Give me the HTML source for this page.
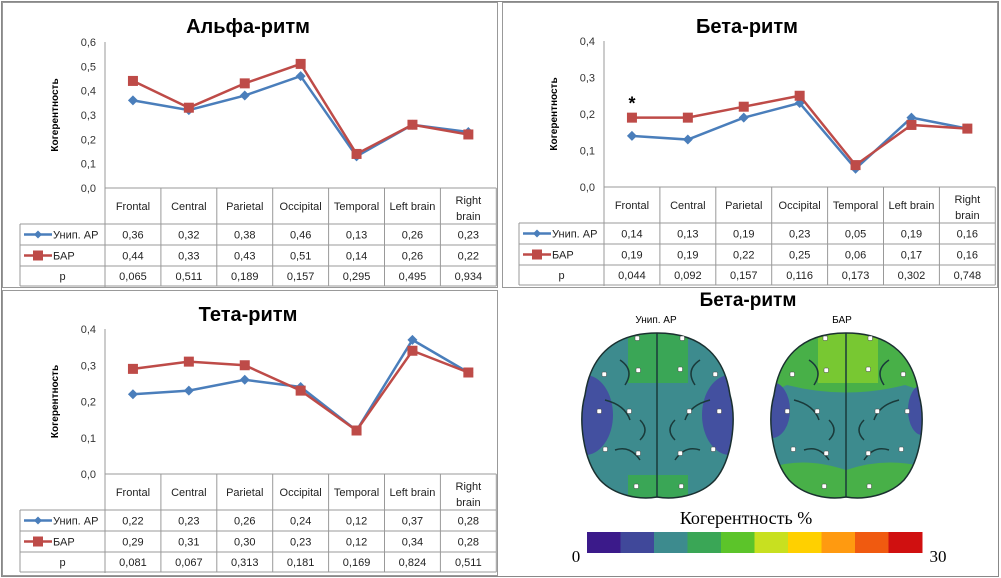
<!DOCTYPE html>
<html><head><meta charset="utf-8">
<style>
html,body{margin:0;padding:0;background:#fff;}
svg{display:block;font-family:"Liberation Sans","DejaVu Sans",sans-serif;}
</style></head>
<body>
<svg id="root" width="1001" height="578" viewBox="0 0 1001 578" xmlns="http://www.w3.org/2000/svg">
<rect x="0" y="0" width="1001" height="578" fill="#fff"/>
<rect x="1.5" y="1.5" width="997" height="575" fill="none" stroke="#888"/>
<rect x="2.5" y="2.5" width="495" height="285" fill="none" stroke="#999"/>
<rect x="502.5" y="2.5" width="495" height="285" fill="none" stroke="#999"/>
<rect x="2.5" y="290.5" width="495" height="285" fill="none" stroke="#999"/>
<g id="charts"></g>
<g id="brainPanel">
  <text x="748" y="306" text-anchor="middle" font-size="19" font-weight="bold">Бета-ритм</text>
  <text x="656" y="323" text-anchor="middle" font-size="10">Унип. АР</text>
  <text x="842" y="323" text-anchor="middle" font-size="10">БАР</text>
  <defs>
    <clipPath id="bl"><path d="M657,333 C610,333 590,360 585,395 C578,420 583,460 600,480 C615,496 640,500 657,497 C674,500 700,496 715,480 C732,460 737,420 730,395 C725,360 705,333 657,333Z"/></clipPath>
    <clipPath id="br"><path d="M846,333 C799,333 779,360 774,395 C767,420 772,460 789,480 C804,496 829,500 846,497 C863,500 889,496 904,480 C921,460 926,420 919,395 C914,360 894,333 846,333Z"/></clipPath>
  </defs>
  <g clip-path="url(#bl)">
    <rect x="575" y="330" width="170" height="175" fill="#3d8b8e"/>
    <rect x="628" y="333" width="60" height="50" fill="#3aa656"/>
    <ellipse cx="585" cy="415" rx="28" ry="40" fill="#4350a0"/>
    <ellipse cx="730" cy="415" rx="28" ry="40" fill="#4350a0"/>
    <rect x="628" y="475" width="60" height="30" fill="#3aa656"/>
    <path d="M657,333 L657,497 M620,360 q15,10 5,25 M700,360 q-15,10 -5,25 M605,400 q20,5 25,20 M710,400 q-20,5 -25,20 M615,450 q15,-5 25,10 M700,450 q-15,-5 -25,10 M640,420 q10,10 0,20 M675,420 q-10,10 0,20" stroke="#1a3a3a" stroke-width="1.5" fill="none"/>
  </g>
  <path d="M657,333 C610,333 590,360 585,395 C578,420 583,460 600,480 C615,496 640,500 657,497 C674,500 700,496 715,480 C732,460 737,420 730,395 C725,360 705,333 657,333Z" fill="none" stroke="#1a3030" stroke-width="1.5"/>
  <g clip-path="url(#br)">
    <rect x="765" y="330" width="170" height="175" fill="#3d8b8e"/>
    <path d="M765,330 H935 V395 L905,385 Q846,400 787,385 L765,395Z" fill="#48b048"/>
    <rect x="818" y="333" width="60" height="50" fill="#78c832"/>
    <ellipse cx="772" cy="410" rx="18" ry="28" fill="#4350a0"/>
    <ellipse cx="922" cy="410" rx="14" ry="25" fill="#4350a0"/>
    <path d="M765,505 V470 Q800,455 846,470 Q890,455 935,470 V505Z" fill="#48b048"/>
    <path d="M846,333 L846,497 M809,360 q15,10 5,25 M889,360 q-15,10 -5,25 M794,400 q20,5 25,20 M899,400 q-20,5 -25,20 M804,450 q15,-5 25,10 M889,450 q-15,-5 -25,10 M829,420 q10,10 0,20 M864,420 q-10,10 0,20" stroke="#1a3a3a" stroke-width="1.5" fill="none"/>
  </g>
  <path d="M846,333 C799,333 779,360 774,395 C767,420 772,460 789,480 C804,496 829,500 846,497 C863,500 889,496 904,480 C921,460 926,420 919,395 C914,360 894,333 846,333Z" fill="none" stroke="#1a3030" stroke-width="1.5"/>
  <g id="dots" fill="#fff" stroke="#444" stroke-width="0.5"></g>
  <text x="746" y="524" text-anchor="middle" font-size="18" font-family="Liberation Serif, serif">Когерентность %</text>
  <g id="cbar"></g>
  <text x="576" y="562" text-anchor="middle" font-size="17" font-family="Liberation Serif, serif">0</text>
  <text x="938" y="562" text-anchor="middle" font-size="17" font-family="Liberation Serif, serif">30</text>
</g>
</svg>
<script>
const categories = ["Frontal","Central","Parietal","Occipital","Temporal","Left brain","Right brain"];
const alphaUnip = [0.36,0.32,0.38,0.46,0.13,0.26,0.23];
const alphaBar  = [0.44,0.33,0.43,0.51,0.14,0.26,0.22];
const alphaP    = ["0,065","0,511","0,189","0,157","0,295","0,495","0,934"];
const betaUnip  = [0.14,0.13,0.19,0.23,0.05,0.19,0.16];
const betaBar   = [0.19,0.19,0.22,0.25,0.06,0.17,0.16];
const betaP     = ["0,044","0,092","0,157","0,116","0,173","0,302","0,748"];
const thetaUnip = [0.22,0.23,0.26,0.24,0.12,0.37,0.28];
const thetaBar  = [0.29,0.31,0.30,0.23,0.12,0.34,0.28];
const thetaP    = ["0,081","0,067","0,313","0,181","0,169","0,824","0,511"];
const alphaTicks = [0,0.1,0.2,0.3,0.4,0.5,0.6];
const betaTicks = [0,0.1,0.2,0.3,0.4];
const thetaTicks = [0,0.1,0.2,0.3,0.4];
const cbarColors = ["#3b1a8a","#40489a","#3d8b8e","#3aa656","#5cc42a","#c8e020","#ffd000","#ff9a10","#f05a10","#d01010"];

const NS="http://www.w3.org/2000/svg";
function mk(tag,attrs,parent,txt){const e=document.createElementNS(NS,tag);for(const k in attrs)e.setAttribute(k,attrs[k]);if(txt!==undefined)e.textContent=txt;parent.appendChild(e);return e;}
const fmt=v=>v.toFixed(2).replace('.',',');
const BLUE="#4a7ebb", RED="#be4b48";

function chart(id,title,ox,oy,yTop,yBot,max,ticks,unip,bar,p,star){
  const g=mk('g',{},document.getElementById('charts'));
  
  
  const x0=ox+105, colW=55.9, tl=ox+20, right=x0+colW*7;
  const yS=v=>yBot-(v/max)*(yBot-yTop);
  const xS=i=>x0+colW*(i+0.5);
  const t=mk('text',{x:ox+248,y:oy+33,'text-anchor':'middle','font-size':20,'font-weight':'bold'},g,title);
  
  
  mk('line',{x1:x0,y1:yTop,x2:x0,y2:yBot+99,stroke:'#999'},g);
  ticks.forEach(v=>{const tt=mk('text',{x:x0-9,y:yS(v)+4,'text-anchor':'end','font-size':11,fill:'#333'},g,v.toFixed(1).replace('.',','));
    
    });
  const yl=mk('text',{transform:`translate(${ox+58},${(yTop+yBot)/2}) rotate(-90)`,'text-anchor':'middle','font-size':10,'font-weight':'bold'},g,'Когерентность');
  
  
  const h1=yBot+36,h2=h1+21,h3=h2+21,h4=h3+20;
  [yBot].forEach(y=>mk('line',{x1:x0,y1:y,x2:right,y2:y,stroke:'#999'},g));
  [h1,h2,h3,h4].forEach(y=>mk('line',{x1:tl,y1:y,x2:right,y2:y,stroke:'#999'},g));
  mk('line',{x1:tl,y1:h1,x2:tl,y2:h4,stroke:'#999'},g);
  for(let i=1;i<=7;i++)mk('line',{x1:x0+colW*i,y1:yBot,x2:x0+colW*i,y2:h4,stroke:'#999'},g);
  categories.forEach((c,i)=>{
    const parts=c==="Right brain"?["Right","brain"]:[c];
    parts.forEach((s,j)=>{const ct=mk('text',{x:xS(i),y:(parts.length>1?yBot+16+j*16:yBot+22),'text-anchor':'middle','font-size':11,fill:'#222'},g,s);
      
      });
    mk('text',{x:xS(i),y:h1+14.5,'text-anchor':'middle','font-size':11,fill:'#222'},g,fmt(unip[i]));
    mk('text',{x:xS(i),y:h2+14.5,'text-anchor':'middle','font-size':11,fill:'#222'},g,fmt(bar[i]));
    mk('text',{x:xS(i),y:h3+14,'text-anchor':'middle','font-size':11,fill:'#222'},g,p[i]);
  });
  const r1=(h1+h2)/2,r2=(h2+h3)/2;
  mk('line',{x1:tl+4,y1:r1,x2:tl+32,y2:r1,stroke:BLUE,'stroke-width':2.5},g);
  mk('path',{d:`M${tl+18},${r1-4} l4,4 l-4,4 l-4,-4z`,fill:BLUE},g);
  const lu=mk('text',{x:tl+33,y:r1+4,'font-size':11,fill:'#222'},g,'Унип. АР');
  
  
  mk('line',{x1:tl+4,y1:r2,x2:tl+32,y2:r2,stroke:RED,'stroke-width':2.5},g);
  mk('rect',{x:tl+13,y:r2-5,width:10,height:10,fill:RED},g);
  const lb=mk('text',{x:tl+33,y:r2+4,'font-size':11,fill:'#222'},g,'БАР');
  
  
  mk('text',{x:(tl+x0)/2,y:h3+14,'text-anchor':'middle','font-size':11,fill:'#222'},g,'p');
  const l1=mk('polyline',{points:unip.map((v,i)=>xS(i)+','+yS(v)).join(' '),fill:'none',stroke:BLUE,'stroke-width':2.5},g);
  
  
  unip.forEach((v,i)=>{const m=mk('path',{d:`M${xS(i)},${yS(v)-5} l5,5 l-5,5 l-5,-5z`,fill:BLUE},g);
    
    });
  const l2=mk('polyline',{points:bar.map((v,i)=>xS(i)+','+yS(v)).join(' '),fill:'none',stroke:RED,'stroke-width':2.5},g);
  
  
  bar.forEach((v,i)=>{const m=mk('rect',{x:xS(i)-5,y:yS(v)-5,width:10,height:10,fill:RED},g);
    
    });
  if(star){const s=mk('text',{x:xS(0),y:yS(bar[0])-8,'text-anchor':'middle','font-size':18,'font-weight':'bold'},g,'*');
    
    }
}
chart('alpha','Альфа-ритм',0,0,42,188,0.6,alphaTicks,alphaUnip,alphaBar,alphaP,false);
chart('beta','Бета-ритм',499,0,41,187,0.4,betaTicks,betaUnip,betaBar,betaP,true);
chart('theta','Тета-ритм',0,288,329,474,0.4,thetaTicks,thetaUnip,thetaBar,thetaP,false);

const cb=document.getElementById('cbar');
const cw=(922-587)/cbarColors.length;
cbarColors.forEach((c,i)=>{const r=mk('rect',{x:587+i*cw,y:532,width:cw+0.5,height:21,fill:c},cb);
  
  });
const dots=document.getElementById('dots');
const dotPos=[[637,338],[682,338],[638,370],[680,369],[604,374],[715,374],[599,411],[629,411],[689,411],[719,411],[605,449],[638,453],[680,453],[713,449],[636,486],[681,486]];
[0,188].forEach(dx=>dotPos.forEach(o=>mk('rect',{x:o[0]+dx-2,y:o[1]-2,width:4.5,height:4.5,rx:1},dots)));
</script>
</body></html>
